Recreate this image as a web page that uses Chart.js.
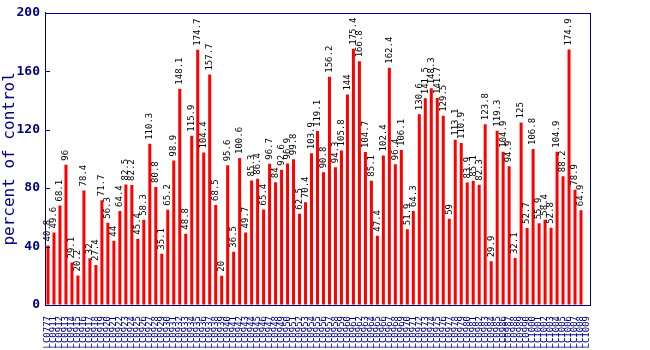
<!DOCTYPE html>
<html>
<head>
<meta charset="utf-8">
<script src="https://cdn.jsdelivr.net/npm/chart.js@4/dist/chart.umd.min.js"></script>
<style>
html,body{margin:0;padding:0;background:#fff;}
canvas{display:block;}
</style>
</head>
<body>
<canvas id="c" width="650" height="350"></canvas>
<script>
const categories = [
"LC0777","LC0911","LC0912","LC0913","LC0914","LC0915","LC0916","LC0917","LC0918","LC0919",
"LC0920","LC0921","LC0922","LC0923","LC0924","LC0925","LC0926","LC0927","LC0928","LC0929",
"LC0930","LC0931","LC0932","LC0933","LC0934","LC0935","LC0936","LC0937","LC0938","LC0939",
"LC0940","LC0941","LC0942","LC0943","LC0944","LC0945","LC0946","LC0947","LC0948","LC0949",
"LC0950","LC0951","LC0952","LC0953","LC0954","LC0955","LC0956","LC0957","LC0958","LC0959",
"LC0960","LC0961","LC0962","LC0963","LC0964","LC0965","LC0966","LC0967","LC0968","LC0969",
"LC0970","LC0971","LC0972","LC0973","LC0974","LC0975","LC0976","LC0977","LC0978","LC0979",
"LC0980","LC0981","LC0982","LC0983","LC0984","LC0985","LC0986","LC0987","LC0988","LC0989",
"LC0990","LC1000","LC1001","LC1002","LC1003","LC1004","LC1005","LC1006","LC1007","LC1008","LC1009"
];
const values = [
40.8,49.6,68.1,96,29.1,20.2,78.4,32,27.4,71.7,
56.3,44,64.4,82.5,82.2,45.4,58.3,110.3,80.8,35.1,
65.2,98.9,148.1,48.8,115.9,174.7,104.4,157.7,68.5,20,
95.6,36.5,100.6,49.7,85.3,86.4,65.4,96.7,84,92.6,
96.9,99.8,62.5,70.4,103.9,119.1,90.8,156.2,94.3,105.8,
144,175.4,166.8,104.7,85.1,47.4,102.4,162.4,96.4,106.1,
51.9,64.3,130.6,141.5,148.3,141.7,129.5,59,113.1,110.9,
83.9,85.1,82.3,123.8,29.9,119.3,104.9,94.9,32.1,125,
52.7,106.8,55.9,58.4,52.8,104.9,88.2,174.9,78.9,64.9
];
const yTicks = [0,40,80,120,160,200];
const valueLabels = values.map(v => String(v));

const NAVY = '#000080';
const MONO = '"DejaVu Sans Mono", "Liberation Mono", monospace';

const framePlugin = {
  id: 'frame',
  afterDraw(chart) {
    const ctx = chart.ctx;
    const a = chart.chartArea;
    const ys = chart.scales.y;
    ctx.save();
    ctx.strokeStyle = NAVY;
    ctx.lineWidth = 1;
    ctx.strokeRect(Math.round(a.left) + 0.5, Math.round(a.top) + 0.5,
                   Math.round(a.right - a.left), Math.round(a.bottom - a.top));
    yTicks.forEach(t => {
      const y = Math.round(ys.getPixelForValue(t)) + 0.5;
      ctx.beginPath();
      ctx.moveTo(a.left, y);
      ctx.lineTo(a.left + 5, y);
      ctx.stroke();
    });
    const meta = chart.getDatasetMeta(0);
    ctx.fillStyle = '#000';
    ctx.font = '9px ' + MONO;
    ctx.textAlign = 'left';
    ctx.textBaseline = 'middle';
    meta.data.forEach((bar, i) => {
      ctx.save();
      ctx.translate(bar.x, bar.y - 4);
      ctx.rotate(-Math.PI / 2);
      ctx.fillText(valueLabels[i], 0, 0);
      ctx.restore();
    });
    ctx.restore();
  }
};

new Chart(document.getElementById('c'), {
  type: 'bar',
  data: {
    labels: categories,
    datasets: [{
      data: values,
      backgroundColor: '#ff0000',
      borderWidth: 0,
      barPercentage: 0.5,
      categoryPercentage: 1.0
    }]
  },
  options: {
    responsive: false,
    animation: false,
    layout: { padding: { top: 8, right: 60, left: 0, bottom: 0 } },
    plugins: { legend: { display: false }, tooltip: { enabled: false } },
    scales: {
      x: {
        grid: { display: false },
        border: { color: NAVY },
        ticks: {
          color: NAVY,
          font: { family: MONO, size: 9 },
          minRotation: 90, maxRotation: 90,
          autoSkip: false,
          padding: 3
        },
        afterFit(s) { s.height = 45; }
      },
      y: {
        min: 0, max: 200,
        grid: { drawOnChartArea: false, drawTicks: false },
        border: { color: NAVY },
        ticks: {
          stepSize: 40,
          color: NAVY,
          font: { family: MONO, size: 13, weight: 'bold' },
          padding: 5
        },
        title: {
          display: true,
          text: 'percent of control',
          color: NAVY,
          font: { family: MONO, size: 16 },
          padding: 0
        },
        afterFit(s) { s.width = 45; }
      }
    }
  },
  plugins: [framePlugin]
});
</script>
</body>
</html>
